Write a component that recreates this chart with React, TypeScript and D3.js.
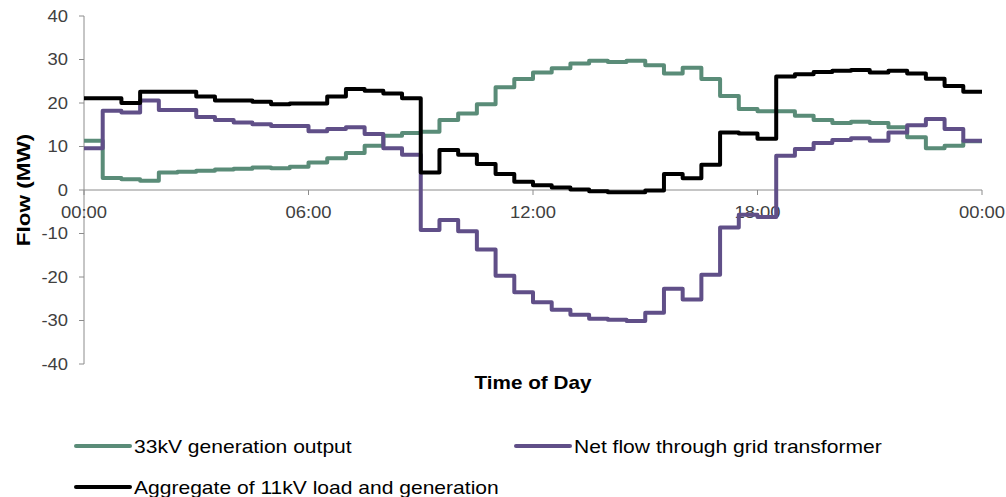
import { curveStepAfter, line, range, scaleLinear } from "d3";

// half-hourly values (MW), 48 slots from 00:00 to 23:30
const generation33kV = [
  11.3, 2.75, 2.45, 2.1, 4.05, 4.2, 4.4, 4.7, 4.9, 5.2, 5.0, 5.35,
  6.35, 7.3, 8.5, 10.2, 12.5, 13.1, 13.4, 16.1, 17.6, 19.7, 23.6, 25.5,
  27.0, 28.0, 29.1, 29.7, 29.4, 29.7, 28.7, 26.8, 28.1, 25.5, 21.6, 18.6,
  18.1, 18.1, 17.05, 16.1, 15.4, 15.7, 15.4, 14.4, 12.1, 9.6, 10.2, 11.2,
];
const netFlow = [
  9.6, 18.2, 17.8, 20.6, 18.4, 18.4, 16.8, 16.1, 15.5, 15.1, 14.7, 14.7,
  13.5, 14.0, 14.4, 12.85, 9.6, 8.1, -9.2, -6.9, -9.5, -13.7, -19.7, -23.5,
  -25.8, -27.5, -28.7, -29.6, -29.8, -30.1, -28.2, -22.7, -25.2, -19.5, -8.6, -5.7,
  -6.2, 7.9, 9.4, 10.8, 11.5, 11.9, 11.3, 13.2, 14.9, 16.3, 14.0, 11.3,
];
const aggregate11kV = [
  21.1, 21.1, 20.0, 22.6, 22.6, 22.6, 21.5, 20.6, 20.6, 20.3, 19.7, 19.9,
  19.9, 21.5, 23.2, 22.8, 22.2, 21.1, 4.05, 9.2, 8.1, 6.0, 3.7, 1.9,
  1.1, 0.6, 0.1, -0.3, -0.5, -0.5, -0.1, 3.7, 2.7, 5.8, 13.2, 13.0,
  11.8, 26.1, 26.6, 27.15, 27.4, 27.6, 27.0, 27.4, 26.8, 25.6, 23.9, 22.6,
];

const seriesNames = [
  "33kV generation output",
  "Net flow through grid transformer",
  "Aggregate of 11kV load and generation",
];
const seriesColors = ["#5A8C78", "#604F88", "#000000"];
const seriesValues = [generation33kV, netFlow, aggregate11kV];

const xTickHours = [0, 6, 12, 18, 24];
const xTickLabels = ["00:00", "06:00", "12:00", "18:00", "00:00"];
const yTicks = [-40, -30, -20, -10, 0, 10, 20, 30, 40];

const W = 1006;
const H = 497;
const FONT = "'Liberation Sans', Arial, sans-serif";

const x = scaleLinear().domain([0, 24]).range([84, 982]);
const y = scaleLinear().domain([-40, 40]).range([364, 16]);

const stepLine = line<[number, number]>()
  .curve(curveStepAfter)
  .x((d) => x(d[0]))
  .y((d) => y(d[1]));

// stretched text, the original labels are wider than Arial
const Label = ({ tx, ty, sx = 1.15, rotate = 0, children, ...rest }: any) => (
  <g transform={`translate(${tx},${ty}) rotate(${rotate}) scale(${sx},1)`}>
    <text x={0} y={0} fontFamily={FONT} {...rest}>
      {children}
    </text>
  </g>
);

export default function App() {
  const legend = [
    { lx: 76, ly: 446, tx: 134 },
    { lx: 516, ly: 446, tx: 574 },
    { lx: 76, ly: 487, tx: 134 },
  ];
  return (
    <svg
      width={W}
      height={H}
      style={{ position: "absolute", left: 0, top: 0, background: "#fff" }}
    >
      {/* y axis */}
      <line x1={x(0)} x2={x(0)} y1={y(40)} y2={y(-40)} stroke="#8c8c8c" />
      {yTicks.map((t) => (
        <g key={t}>
          <line x1={x(0) - 5} x2={x(0)} y1={y(t)} y2={y(t)} stroke="#8c8c8c" />
          <Label tx={68} ty={y(t) + 5.7} textAnchor="end" fontSize={16} fill="#404040">
            {t}
          </Label>
        </g>
      ))}
      {/* x axis at zero */}
      <line x1={x(0)} x2={x(24)} y1={y(0)} y2={y(0)} stroke="#8c8c8c" />
      {xTickHours.map((h, i) => (
        <g key={i}>
          <line x1={x(h)} x2={x(h)} y1={y(0)} y2={y(0) + 5} stroke="#8c8c8c" />
          <Label tx={x(h)} ty={y(0) + 28} textAnchor="middle" fontSize={16} fill="#404040">
            {xTickLabels[i]}
          </Label>
        </g>
      ))}

      {/* series */}
      {seriesValues.map((vals, s) => {
        const pts: [number, number][] = vals.map((v, i) => [i * 0.5, v]);
        pts.push([24, vals[vals.length - 1]]);
        return (
          <path
            key={s}
            d={stepLine(pts) || ""}
            fill="none"
            stroke={seriesColors[s]}
            strokeWidth={4}
            strokeLinejoin="round"
          />
        );
      })}

      {/* titles */}
      <Label tx={533} ty={389} textAnchor="middle" fontSize={18} fontWeight="bold" fill="#000">
        Time of Day
      </Label>
      <Label
        tx={30}
        ty={190}
        sx={1.25}
        rotate={-90}
        textAnchor="middle"
        fontSize={18}
        fontWeight="bold"
        fill="#000"
      >
        Flow (MW)
      </Label>

      {/* legend */}
      {legend.map((p, i) => (
        <g key={i}>
          <line
            x1={p.lx}
            x2={p.lx + 54}
            y1={p.ly}
            y2={p.ly}
            stroke={seriesColors[i]}
            strokeWidth={4}
            strokeLinecap="round"
          />
          <Label tx={p.tx} ty={p.ly + 7} sx={1.17} fontSize={18} fill="#000">
            {seriesNames[i]}
          </Label>
        </g>
      ))}
    </svg>
  );
}
